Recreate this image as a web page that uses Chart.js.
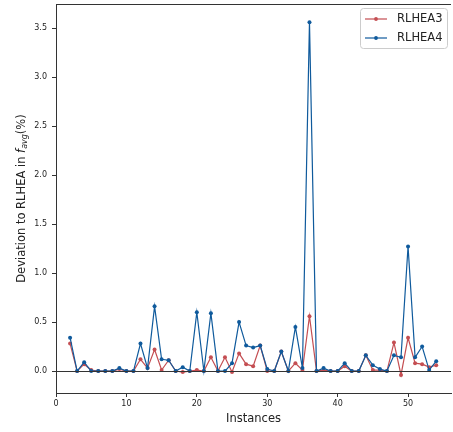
<!DOCTYPE html>
<html><head><meta charset="utf-8">
<script src="https://cdn.jsdelivr.net/npm/chart.js@4"></script>
<style>html,body{margin:0;padding:0;background:#fff}#wrap{width:453px;height:432px}</style>
</head><body><div id="wrap"><canvas id="c" width="453" height="432"></canvas></div>
<script>
const instances = [2,3,4,5,6,7,8,9,10,11,12,13,14,15,16,17,18,19,20,21,22,23,24,25,26,27,28,29,30,31,32,33,34,35,36,37,38,39,40,41,42,43,44,45,46,47,48,49,50,51,52,53,54];
const rlhea3 = [0.28,0,0.07,0.01,0,0,0,0.02,0,0,0.12,0.03,0.22,0.01,0.11,0,-0.01,0,0.01,0,0.14,0,0.14,-0.01,0.18,0.07,0.05,0.26,0,0,0.20,0,0.08,0.01,0.56,0,0.01,0,0,0.05,0,0,0.16,0.01,0.01,0,0.29,-0.04,0.34,0.08,0.07,0.04,0.06];
const rlhea4 = [0.34,0,0.09,0,0,0,0,0.03,0,0,0.28,0.03,0.66,0.12,0.11,0,0.04,0,0.60,0,0.59,0,0,0.08,0.50,0.26,0.24,0.26,0.02,0,0.20,0,0.45,0.03,3.56,0,0.03,0,0,0.08,0,0,0.16,0.06,0.02,0,0.16,0.14,1.27,0.14,0.25,0.01,0.10];
const xTicks = [0,10,20,30,40,50];
const yTicks = [0,0.5,1.0,1.5,2.0,2.5,3.0,3.5];
const seriesNames = ['RLHEA3','RLHEA4'];
const colors = ['#c44e52','#0f5a9c'];

const FONT = 'DejaVu Sans';
const extras = {
  id:'extras',
  afterDraw(chart){
    const ctx = chart.ctx, a = chart.chartArea, ys = chart.scales.y;
    ctx.save();
    const y0 = Math.round(ys.getPixelForValue(0))+0.5;
    ctx.strokeStyle='#333'; ctx.lineWidth=1;
    ctx.beginPath(); ctx.moveTo(a.left,y0); ctx.lineTo(a.right,y0); ctx.stroke();
    ctx.beginPath(); ctx.moveTo(a.left,a.top+0.5); ctx.lineTo(a.right,a.top+0.5); ctx.stroke();
    ctx.fillStyle='#222'; ctx.font='11.5px "'+FONT+'"'; ctx.textAlign='center'; ctx.textBaseline='middle';
    ctx.fillText('Instances',(a.left+a.right)/2,419);
    ctx.translate(22,(a.top+a.bottom)/2); ctx.rotate(-Math.PI/2);
    const p1='Deviation to RLHEA in ', p2='f', p3='avg', p4='(%)';
    const fN='11.5px "'+FONT+'"', fI='italic 11.5px "'+FONT+'"', fS='italic 8px "'+FONT+'"';
    ctx.font=fN; const w1=ctx.measureText(p1).width, w4=ctx.measureText(p4).width;
    ctx.font=fI; const w2=ctx.measureText(p2).width;
    ctx.font=fS; const w3=ctx.measureText(p3).width;
    let x=-(w1+w2+w3+w4)/2;
    ctx.textAlign='left'; ctx.textBaseline='middle';
    ctx.font=fN; ctx.fillText(p1,x,0); x+=w1;
    ctx.font=fI; ctx.fillText(p2,x,0); x+=w2;
    ctx.font=fS; ctx.fillText(p3,x,3); x+=w3;
    ctx.font=fN; ctx.fillText(p4,x,0);
    ctx.restore();
    ctx.save();
    const lx=360, ly=8, lw=87, lh=40;
    ctx.fillStyle='rgba(255,255,255,0.85)'; ctx.strokeStyle='#cccccc'; ctx.lineWidth=1;
    ctx.beginPath(); ctx.roundRect(lx+0.5,ly+0.5,lw,lh,3); ctx.fill(); ctx.stroke();
    seriesNames.forEach((n,i)=>{
      const yy = ly+11+i*19;
      ctx.strokeStyle=colors[i]; ctx.lineWidth=1.2;
      ctx.beginPath(); ctx.moveTo(lx+5,yy); ctx.lineTo(lx+27,yy); ctx.stroke();
      ctx.fillStyle=colors[i]; ctx.beginPath(); ctx.arc(lx+16,yy,1.9,0,Math.PI*2); ctx.fill();
      ctx.fillStyle='#222'; ctx.font='11.5px "'+FONT+'"'; ctx.textAlign='left'; ctx.textBaseline='middle';
      ctx.fillText(n,lx+37,yy+0.5);
    });
    ctx.restore();
  }
};

new Chart(document.getElementById('c'),{
  type:'line',
  data:{datasets:[
    {label:seriesNames[0],data:instances.map((x,i)=>({x,y:rlhea3[i]})),borderColor:colors[0],backgroundColor:colors[0],borderWidth:1.2,pointRadius:2,pointHoverRadius:2,pointBorderWidth:0,order:1,tension:0},
    {label:seriesNames[1],data:instances.map((x,i)=>({x,y:rlhea4[i]})),borderColor:colors[1],backgroundColor:colors[1],borderWidth:1.2,pointRadius:2,pointHoverRadius:2,pointBorderWidth:0,order:0,tension:0}
  ]},
  options:{
    responsive:false,animation:false,
    layout:{padding:{top:4,right:0,left:0,bottom:0}},
    plugins:{legend:{display:false},tooltip:{enabled:false}},
    scales:{
      x:{type:'linear',min:0,max:56.1,
        afterBuildTicks(s){s.ticks=xTicks.map(v=>({value:v}));},
        afterFit(s){s.height=39;s.paddingLeft=0;s.paddingRight=0;},
        grid:{drawOnChartArea:false,drawTicks:true,tickLength:4,color:'#333'},
        border:{display:true,color:'#333',width:1},
        ticks:{font:{family:FONT,size:8},color:'#222',padding:2,maxRotation:0,callback:v=>String(v)}},
      y:{type:'linear',min:-0.224,max:3.745,
        afterBuildTicks(s){s.ticks=yTicks.map(v=>({value:v}));},
        afterFit(s){s.width=56;s.paddingTop=0;s.paddingBottom=0;},
        grid:{drawOnChartArea:false,drawTicks:true,tickLength:4,color:'#333'},
        border:{display:true,color:'#333',width:1},
        ticks:{font:{family:FONT,size:8},color:'#222',padding:5,callback:v=>v.toFixed(1)}}
    }
  },
  plugins:[extras]
});
</script></body></html>
